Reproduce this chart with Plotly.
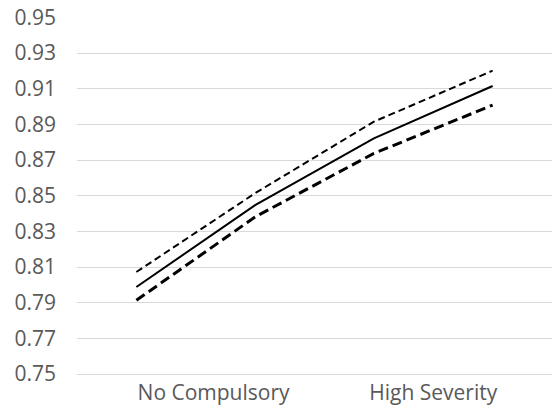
import plotly.graph_objects as go

# Data
x_points = [0, 1, 2, 3]
estimate = [0.7988, 0.8447, 0.8821, 0.9115]
upper_bound = [0.8072, 0.8514, 0.8915, 0.9201]
lower_bound = [0.7913, 0.8381, 0.8737, 0.9008]

tick_labels = ["No Compulsory", "High Severity"]
tick_positions = [0.65, 2.5]
y_ticks = [0.75, 0.77, 0.79, 0.81, 0.83, 0.85, 0.87, 0.89, 0.91, 0.93, 0.95]

font_family = "Open Sans"
text_color = "#595959"
grid_color = "#d9d9d9"

fig = go.Figure()
fig.add_trace(go.Scatter(x=x_points, y=upper_bound, mode="lines",
                         line=dict(color="black", width=2, dash="7px,4px"),
                         showlegend=False, hoverinfo="skip"))
fig.add_trace(go.Scatter(x=x_points, y=estimate, mode="lines",
                         line=dict(color="black", width=2),
                         showlegend=False, hoverinfo="skip"))
fig.add_trace(go.Scatter(x=x_points, y=lower_bound, mode="lines",
                         line=dict(color="black", width=3, dash="10px,5px"),
                         showlegend=False, hoverinfo="skip"))

fig.update_layout(
    width=552, height=412,
    margin=dict(l=77, r=0, t=17, b=38),
    paper_bgcolor="white", plot_bgcolor="white",
    font=dict(family=font_family, size=22, color=text_color),
    xaxis=dict(range=[-0.5, 3.5], tickmode="array", tickvals=tick_positions,
               ticktext=tick_labels, showgrid=False, zeroline=False,
               showline=True, linecolor=grid_color, linewidth=1,
               ticks="", tickfont=dict(size=21, color=text_color)),
    yaxis=dict(range=[0.75, 0.9502], tickmode="array", tickvals=y_ticks,
               ticktext=[f"{v:.2f}" for v in y_ticks],
               showgrid=True, gridcolor=grid_color, gridwidth=1,
               zeroline=False, showline=False, ticks="",
               ticklabelstandoff=20,
               tickfont=dict(size=21, color=text_color)),
)

fig.write_html("out.html", config={"displayModeBar": False})

# remove the browser's default body margin so the chart sits at the page origin
with open("out.html", "r", encoding="utf-8") as f:
    html = f.read()
html = html.replace("<body>", '<body style="margin:0;padding:0;overflow:hidden">', 1)
with open("out.html", "w", encoding="utf-8") as f:
    f.write(html)
